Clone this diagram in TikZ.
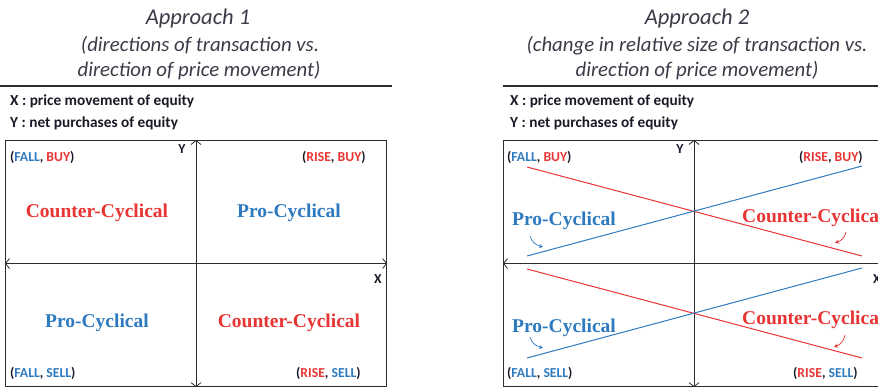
\documentclass[tikz,border=0pt]{standalone}
\usepackage{fontspec}
\setmainfont{Carlito}
\newfontfamily\qfont{Liberation Serif}
\usetikzlibrary{arrows.meta}
\definecolor{cred}{RGB}{232,52,50}
\definecolor{cblue}{RGB}{46,122,192}
\definecolor{frame}{RGB}{45,45,45}
\definecolor{ink}{RGB}{25,25,40}
\begin{document}
\begin{tikzpicture}[x=1pt,y=-1pt,
  title/.style={font=\fontsize{22.5}{26}\selectfont\itshape, text=ink!85, anchor=base, inner sep=0},
  sub/.style={font=\fontsize{20.8}{24}\selectfont\itshape, text=ink!85, anchor=base, inner sep=0},
  leg/.style={font=\fontsize{15.3}{18}\selectfont\bfseries, text=ink, anchor=base west, inner sep=0},
  corner/.style={font=\fontsize{13.7}{16}\selectfont\bfseries, text=ink, anchor=base west, inner sep=0},
  axlab/.style={font=\fontsize{13.7}{16}\selectfont\bfseries, text=ink, anchor=base, inner sep=0},
  quad/.style={font=\qfont\fontsize{19.5}{22}\selectfont\bfseries, anchor=base, inner sep=0},
  rulestyle/.style={draw=frame, line width=1.2pt},
  panel/.style={draw=frame, line width=1.1pt, minimum width=381pt, minimum height=246pt, inner sep=0, anchor=north west},
  axis/.style={draw=frame, line width=0.8pt, {Straight Barb[length=4pt,width=10pt]}-{Straight Barb[length=4pt,width=10pt]}},
  trend/.style={line width=1pt},
  hint/.style={line width=0.7pt, -{Stealth[length=4pt,width=4pt]}}
]
\clip (0,0) rectangle (878,387);

% ---------- Approach 1 ----------
\node[title] (t1) at (198,25) {Approach 1};
\node[sub] (t1a) at (200,52) {(directions of transaction vs.};
\node[sub] (t1b) at (199,77) {direction of price movement)};
\coordinate (r1a) at (0,86);
\coordinate (r1b) at (392,86);
\draw[rulestyle] (r1a) -- (r1b);
\node[leg] (lx1) at (10,106) {X : price movement of equity};
\node[leg] (ly1) at (10,128) {Y : net purchases of equity};
\node[panel] (b1) at (5,140) {};
\draw[axis] (b1.north) -- (b1.south);
\draw[axis] (b1.west) -- (b1.east);
\node[axlab] (y1) at (182,154) {Y};
\node[axlab] (x1) at (378,284) {X};
\node[corner] (c1a) at (10,161.5) {(\textcolor{cblue}{FALL}, \textcolor{cred}{BUY})};
\node[corner] (c1b) at (302,161.5) {(\textcolor{cred}{RISE}, \textcolor{cred}{BUY})};
\node[corner] (c1c) at (10,377.5) {(\textcolor{cblue}{FALL}, \textcolor{cblue}{SELL})};
\node[corner] (c1d) at (296,377.5) {(\textcolor{cred}{RISE}, \textcolor{cblue}{SELL})};
\node[quad, text=cred] (q1a) at (97,218) {Counter-Cyclical};
\node[quad, text=cblue] (q1b) at (289,218) {Pro-Cyclical};
\node[quad, text=cblue] (q1c) at (97,327) {Pro-Cyclical};
\node[quad, text=cred] (q1d) at (289,327) {Counter-Cyclical};

% ---------- Approach 2 ----------
\node[title] (t2) at (697,25) {Approach 2};
\node[sub] (t2a) at (697,52) {(change in relative size of transaction vs.};
\node[sub] (t2b) at (697,77) {direction of price movement)};
\coordinate (r2a) at (503,86);
\coordinate (r2b) at (878,86);
\draw[rulestyle] (r2a) -- (r2b);
\node[leg] (lx2) at (510,106) {X : price movement of equity};
\node[leg] (ly2) at (510,128) {Y : net purchases of equity};
\node[panel] (b2) at (503,140) {};
\draw[axis] (b2.north) -- (b2.south);
\draw[axis] (b2.west) -- (b2.east);
\node[axlab] (y2) at (680,154) {Y};
\node[axlab] (x2) at (877,284) {X};
\node[corner] (c2a) at (507,161.5) {(\textcolor{cblue}{FALL}, \textcolor{cred}{BUY})};
\node[corner] (c2b) at (799,161.5) {(\textcolor{cred}{RISE}, \textcolor{cred}{BUY})};
\node[corner] (c2c) at (507,377.5) {(\textcolor{cblue}{FALL}, \textcolor{cblue}{SELL})};
\node[corner] (c2d) at (793,377.5) {(\textcolor{cred}{RISE}, \textcolor{cblue}{SELL})};

% trend lines (upper pair)
\coordinate (ua) at (527,167);
\coordinate (ub) at (862,256);
\coordinate (uc) at (527,256);
\coordinate (ud) at (862,166);
\draw[trend, cred] (ua) -- (ub);
\draw[trend, cblue] (uc) -- (ud);
% trend lines (lower pair)
\coordinate (la) at (527,269);
\coordinate (lb) at (862,358);
\coordinate (lc) at (527,358);
\coordinate (ld) at (862,268);
\draw[trend, cred] (la) -- (lb);
\draw[trend, cblue] (lc) -- (ld);

\node[quad, text=cblue, anchor=base west] (q2a) at (512,226) {Pro-Cyclical};
\node[quad, text=cred, anchor=base west] (q2b) at (742,223) {Counter-Cyclical};
\node[quad, text=cblue, anchor=base west] (q2c) at (512,332) {Pro-Cyclical};
\node[quad, text=cred, anchor=base west] (q2d) at (742,324) {Counter-Cyclical};

\coordinate (h1s) at (530,236); \coordinate (h1e) at (543,247);
\coordinate (h2s) at (846,232); \coordinate (h2e) at (835,243);
\coordinate (h3s) at (530,337); \coordinate (h3e) at (543,348);
\coordinate (h4s) at (845,335); \coordinate (h4e) at (834,347);
\draw[hint, cblue] (h1s) to[out=-75,in=165] (h1e);
\draw[hint, cred] (h2s) to[out=-100,in=20] (h2e);
\draw[hint, cblue] (h3s) to[out=-75,in=165] (h3e);
\draw[hint, cred] (h4s) to[out=-100,in=20] (h4e);
\end{tikzpicture}
\end{document}
